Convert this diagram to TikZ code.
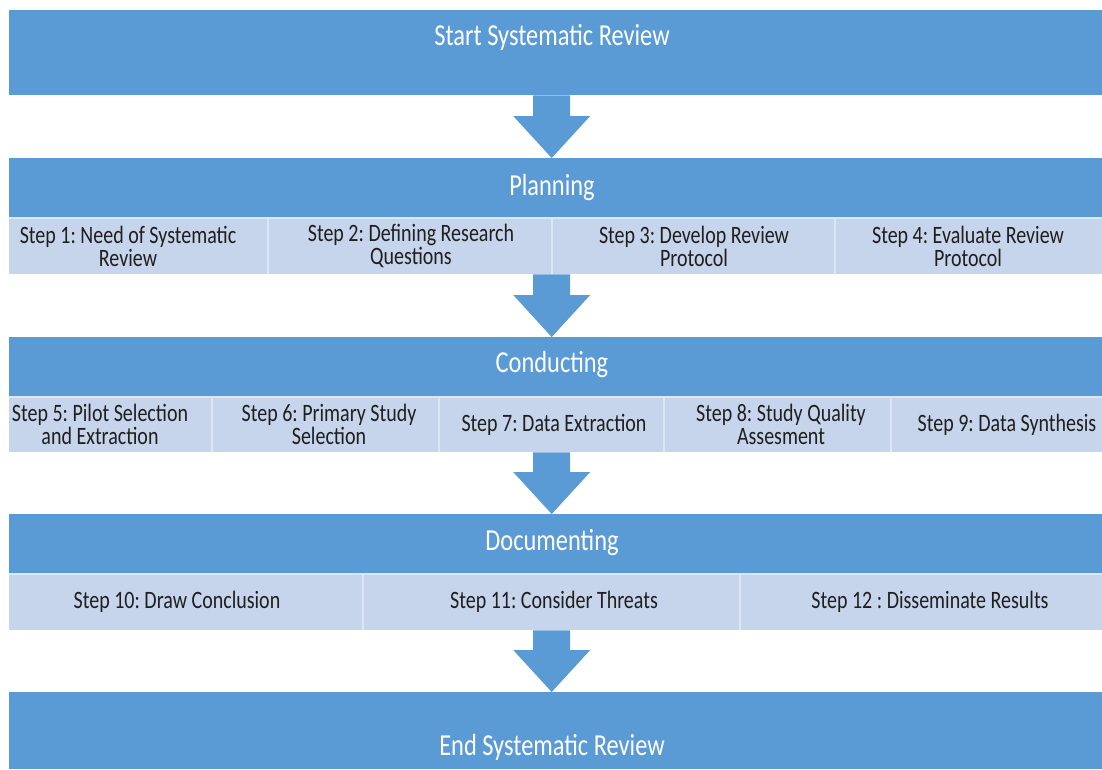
\documentclass[tikz,border=0pt]{standalone}
\usepackage{fontspec}
\usetikzlibrary{calc}
\newfontfamily\calib{Carlito}[FakeStretch=0.8]
\frenchspacing
\definecolor{hblue}{HTML}{5B9BD5}
\definecolor{cellfill}{HTML}{C6D5EB}
\definecolor{divline}{HTML}{DDE6F3}
\definecolor{txtdark}{HTML}{1F1F1F}
\tikzset{
  hdr/.style={fill=hblue, draw=none, minimum width=1093, minimum height=#1, inner sep=0, anchor=north west},
  rowbox/.style={fill=cellfill, draw=none, minimum width=1093, minimum height=#1, inner sep=0, anchor=north west},
  htext/.style={text=white, font=\calib\fontsize{30.5}{30}\selectfont, inner sep=0},
  steptxt/.style={text=txtdark, font=\calib\fontsize{25}{23}\selectfont, align=center, inner sep=0},
  divider/.style={draw=divline, line width=1.2},
  arrowfill/.style={fill=hblue},
}
\newcommand\blockarrow[2]{%
  \fill[arrowfill] ($(#1.south)+(-22.5,0)$) -- ($(#1.south)+(14.5,0)$)
    -- ($(#2.north)+(14.5,-42)$) -- ($(#2.north)+(34.5,-42)$)
    -- ($(#2.north)+(-4,0)$) -- ($(#2.north)+(-42.5,-42)$)
    -- ($(#2.north)+(-22.5,-42)$) -- cycle;}
\begin{document}
\begin{tikzpicture}[x=1pt,y=-1pt]
\useasboundingbox (0,0) rectangle (1102,769);
% boxes
\node[hdr=85] (start) at (9,10) {};
\node[hdr=60] (plan) at (9,158) {};
\node[rowbox=56] (prow) at (9,218) {};
\node[hdr=60] (cond) at (9,337) {};
\node[rowbox=55] (crow) at (9,397) {};
\node[hdr=60] (doc) at (9,514) {};
\node[rowbox=56] (drow) at (9,574) {};
\node[hdr=77] (finish) at (9,692) {};
% separators header / row
\draw[divider] (prow.north west) -- (prow.north east);
\draw[divider] (crow.north west) -- (crow.north east);
\draw[divider] (drow.north west) -- (drow.north east);
% dividers
\foreach \x in {268,552,835} \draw[divider] (\x,218) -- (\x,274);
\foreach \x in {212,439,664,891} \draw[divider] (\x,397) -- (\x,452);
\foreach \x in {363,740} \draw[divider] (\x,574) -- (\x,630);
% header texts
\node[htext] (tstart) at (552,37) {Start Systematic Review};
\node[htext] (tplan) at (552,188) {Planning};
\node[htext] (tcond) at (552,365) {Conducting};
\node[htext] (tdoc) at (552,543) {Documenting};
\node[htext] (tend) at (552,747) {End Systematic Review};
% steps
\node[steptxt] (s1) at (128,246) {Step 1: Need of Systematic\\Review};
\node[steptxt] (s2) at (411,246) {Step 2: Defining Research\\Questions};
\node[steptxt] (s3) at (694,246) {Step 3: Develop Review\\Protocol};
\node[steptxt] (s4) at (968,246) {Step 4: Evaluate Review\\Protocol};
\node[steptxt] (s5) at (100,424.5) {Step 5: Pilot Selection\\and Extraction};
\node[steptxt] (s6) at (329,424.5) {Step 6: Primary Study\\Selection};
\node[steptxt] (s7) at (554,424.5) {Step 7: Data Extraction};
\node[steptxt] (s8) at (781,424.5) {Step 8: Study Quality\\Assesment};
\node[steptxt] (s9) at (1007,424.5) {Step 9: Data Synthesis};
\node[steptxt] (s10) at (177,602) {Step 10: Draw Conclusion};
\node[steptxt] (s11) at (554,602) {Step 11: Consider Threats};
\node[steptxt] (s12) at (930,602) {Step 12 : Disseminate Results};
% arrows
\blockarrow{start}{plan}
\blockarrow{prow}{cond}
\blockarrow{crow}{doc}
\blockarrow{drow}{finish}
\end{tikzpicture}
\end{document}
